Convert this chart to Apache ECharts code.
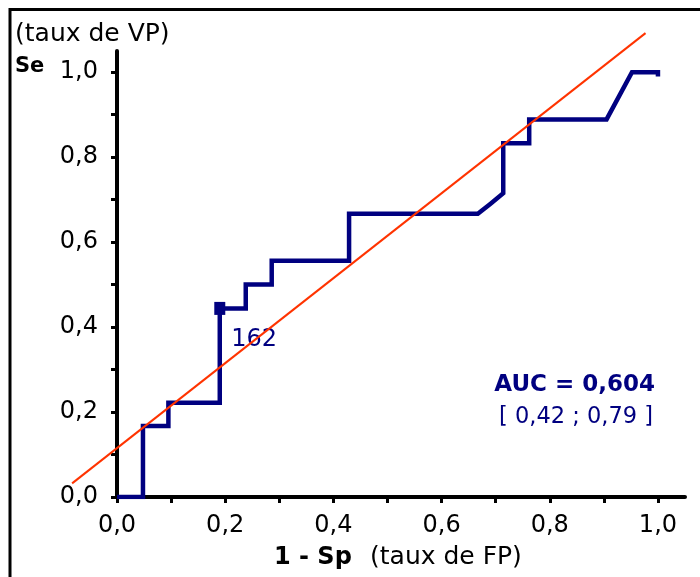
<!DOCTYPE html>
<html>
<head>
<meta charset="utf-8">
<script src="https://cdn.jsdelivr.net/npm/echarts@6/dist/echarts.min.js"></script>
<style>
  html, body { margin: 0; padding: 0; background: #fff; }
  #main { width: 700px; height: 577px; }
</style>
</head>
<body>
<div id="main"></div>
<script>
// courbe ROC (1 - Sp, Se)
var fpRate = [0, 0.048, 0.048, 0.095, 0.095, 0.19, 0.19, 0.238, 0.238, 0.286, 0.286, 0.429, 0.429, 0.667, 0.69, 0.714, 0.714, 0.762, 0.762, 0.905, 0.952, 1.0, 1.0];
var vpRate = [0, 0, 0.167, 0.167, 0.222, 0.222, 0.444, 0.444, 0.5, 0.5, 0.556, 0.556, 0.667, 0.667, 0.69, 0.715, 0.833, 0.833, 0.889, 0.889, 1.0, 1.0, 0.99];
// point seuil marqué
var cutPoint = [0.19, 0.444];
var cutLabel = '162';
// droite rouge (pente 1)
var redLineX = [-0.083, 0.977];
var redLineY = [0.032, 1.092];
// graduations
var tickValues = [0, 0.1, 0.2, 0.3, 0.4, 0.5, 0.6, 0.7, 0.8, 0.9, 1.0];
var labelValues = [0, 0.2, 0.4, 0.6, 0.8, 1.0];
var aucText = 'AUC = 0,604';
var ciText = '[ 0,42 ; 0,79 ]';

var font = 'DejaVu Sans';
var navy = '#000080';

function fmt(v) {
  return v.toFixed(1).replace('.', ',');
}

var rocData = fpRate.map(function (x, i) { return [x, vpRate[i]]; });

var axisCommon = {
  type: 'value',
  min: 0,
  max: 1.05,
  splitLine: { show: false },
  axisLine: { show: true, lineStyle: { color: '#000', width: 4 } },
  axisTick: { show: true, customValues: tickValues, length: 6, lineStyle: { color: '#000', width: 3 } },
  axisLabel: {
    customValues: labelValues,
    formatter: fmt,
    color: '#000',
    fontFamily: font,
    fontSize: 24
  }
};

var myChart = echarts.init(document.getElementById('main'));
var option = {
  backgroundColor: '#fff',
  animation: false,
  grid: { left: 117, right: 15, top: 51, bottom: 80 },
  xAxis: echarts.util.merge({ axisLabel: { margin: 17 } }, axisCommon, true),
  yAxis: echarts.util.merge({ axisLabel: { margin: 19 } }, axisCommon, true),
  series: [
    {
      type: 'line',
      data: rocData,
      symbol: 'none',
      lineStyle: { color: navy, width: 4.5, join: 'miter' }
    },
    {
      type: 'scatter',
      data: [cutPoint],
      symbol: 'rect',
      symbolSize: [11, 13],
      itemStyle: { color: navy, opacity: 1 },
      label: {
        show: true,
        formatter: cutLabel,
        position: 'right',
        distance: 6,
        offset: [0, 31],
        color: navy,
        fontFamily: font,
        fontSize: 24
      }
    }
  ],
  graphic: [
    {
      type: 'polyline',
      shape: { points: [[10, 577], [10, 9.5], [700, 9.5]] },
      style: { stroke: '#000', lineWidth: 3, fill: null }
    },
    {
      type: 'text', left: 15, top: 22,
      style: { text: '(taux de VP)', font: '25px "DejaVu Sans"', fill: '#000' }
    },
    {
      type: 'text', left: 15, top: 56,
      style: { text: 'Se', font: 'bold 21px "DejaVu Sans"', fill: '#000' }
    },
    {
      type: 'text', left: 274, top: 546,
      style: { text: '1 - Sp', font: 'bold 24px "DejaVu Sans"', fill: '#000' }
    },
    {
      type: 'text', left: 370, top: 545,
      style: { text: '(taux de FP)', font: '25px "DejaVu Sans"', fill: '#000' }
    },
    {
      type: 'text', right: 45, top: 374,
      style: { text: aucText, font: 'bold 23px "DejaVu Sans"', fill: navy }
    },
    {
      type: 'text', right: 47, top: 406,
      style: { text: ciText, font: '22.5px "DejaVu Sans"', fill: navy }
    }
  ]
};
myChart.setOption(option);

// droite rouge : positions calculées par l'échelle du graphique (elle déborde de la grille)
var p0 = myChart.convertToPixel({ gridIndex: 0 }, [redLineX[0], redLineY[0]]);
var p1 = myChart.convertToPixel({ gridIndex: 0 }, [redLineX[1], redLineY[1]]);
myChart.setOption({
  graphic: [{
    type: 'line',
    id: 'redLine',
    z: 10,
    shape: { x1: p0[0], y1: p0[1], x2: p1[0], y2: p1[1] },
    style: { stroke: '#ff3300', lineWidth: 2 }
  }]
});
</script>
</body>
</html>
